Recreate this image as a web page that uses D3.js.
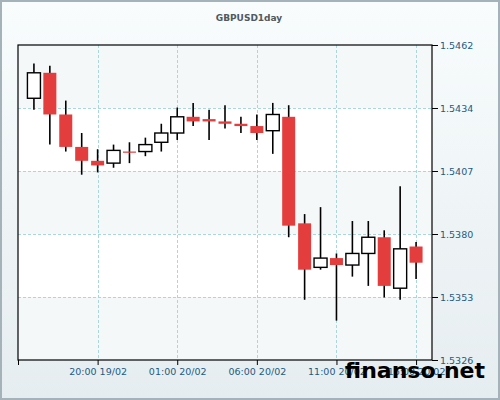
<!DOCTYPE html>
<html>
<head>
<meta charset="utf-8">
<script src="https://cdn.jsdelivr.net/npm/d3@7"></script>
<style>
  body { margin: 0; }
  svg { display: block; }
</style>
</head>
<body>
<div id="chart"></div>
<script>
// hourly candles, 16:00 19/02 .. 16:00 20/02
const hours = d3.range(25).map((i) => new Date(2013, 1, 19, 16 + i));
const opens  = [1.5439, 1.5450, 1.5432, 1.5418, 1.5412, 1.5411, 1.5416, 1.5416, 1.5420, 1.5424, 1.5431, 1.5430, 1.5429,
                1.5428, 1.5427, 1.5425, 1.5431, 1.5385, 1.5366, 1.5370, 1.5367, 1.5372, 1.5379, 1.5357, 1.5375];
const highs  = [1.5454, 1.5453, 1.5438, 1.5424, 1.5417, 1.5419, 1.5420, 1.5422, 1.5428, 1.5435, 1.5437, 1.5434, 1.5436,
                1.5431, 1.5432, 1.5437, 1.5436, 1.5389, 1.5392, 1.5372, 1.5386, 1.5386, 1.5382, 1.5401, 1.5377];
const lows   = [1.5434, 1.5419, 1.5416, 1.5406, 1.5407, 1.5409, 1.5411, 1.5414, 1.5416, 1.5421, 1.5427, 1.5421, 1.5426,
                1.5424, 1.5421, 1.5415, 1.5379, 1.5352, 1.5365, 1.5343, 1.5362, 1.5358, 1.5353, 1.5352, 1.5361];
const closes = [1.5450, 1.5432, 1.5418, 1.5412, 1.5410, 1.54165, 1.54155, 1.5419, 1.5424, 1.5431, 1.5429, 1.5429, 1.5428,
                1.5427, 1.5424, 1.5432, 1.5384, 1.5365, 1.5370, 1.5367, 1.5372, 1.5379, 1.5358, 1.5374, 1.5368];
const yTicks = [1.5326, 1.53532, 1.53804, 1.54076, 1.54348, 1.5462];
const xTicks = [15, 20, 25, 30, 35, 40].map((h) => new Date(2013, 1, 19, h));

const candles = hours.map((t, i) => ({
  t, o: opens[i], h: highs[i], l: lows[i], c: closes[i]
}));

const width = 500, height = 400;
const mLeft = 18, mRight = 432, mTop = 45, mBottom = 360;

const svg = d3.select("#chart").append("svg")
  .attr("width", width).attr("height", height);

const bg = svg.append("defs").append("linearGradient")
  .attr("id", "bg").attr("x1", 0).attr("y1", 0).attr("x2", 0).attr("y2", 1);
bg.append("stop").attr("offset", "0%").attr("stop-color", "#f8fcfd");
bg.append("stop").attr("offset", "100%").attr("stop-color", "#e6edf0");

svg.append("rect")
  .attr("x", 1).attr("y", 1).attr("width", width - 2).attr("height", height - 2)
  .attr("fill", "url(#bg)").attr("stroke", "#a6b2ba").attr("stroke-width", 2);

const x = d3.scaleTime()
  .domain([new Date(2013, 1, 19, 15), new Date(2013, 1, 20, 17)])
  .range([mLeft, mRight]);
const y = d3.scaleLinear().domain([1.5326, 1.5462]).range([mBottom, mTop]);

// alternating bands
const g = svg.append("g");
d3.pairs(yTicks).forEach(([a, b], i) => {
  g.append("rect")
    .attr("x", mLeft).attr("width", mRight - mLeft)
    .attr("y", y(b)).attr("height", y(a) - y(b))
    .attr("fill", i % 2 === 1 ? "#ffffff" : "#f4f8f9");
});

// grid
g.selectAll(".hg").data(yTicks.slice(1, -1)).join("line")
  .attr("x1", mLeft).attr("x2", mRight)
  .attr("y1", (d) => Math.round(y(d)) + 0.5).attr("y2", (d) => Math.round(y(d)) + 0.5)
  .attr("stroke", "#a9d6df").attr("stroke-dasharray", "3,2");
g.selectAll(".vg").data(xTicks.slice(1)).join("line")
  .attr("y1", mTop).attr("y2", mBottom)
  .attr("x1", (d) => Math.round(x(d)) + 0.5).attr("x2", (d) => Math.round(x(d)) + 0.5)
  .attr("stroke", "#a9d6df").attr("stroke-dasharray", "3,2");

// candles
const bw = 13;
const cg = svg.append("g").selectAll("g").data(candles).join("g");
cg.append("line")
  .attr("x1", (d) => x(d.t)).attr("x2", (d) => x(d.t))
  .attr("y1", (d) => y(d.h)).attr("y2", (d) => y(d.l))
  .attr("stroke", "#000").attr("stroke-width", 1.6);
cg.append("rect")
  .attr("x", (d) => x(d.t) - bw / 2)
  .attr("width", bw)
  .attr("y", (d) => y(Math.max(d.o, d.c)))
  .attr("height", (d) => Math.max(1.2, Math.abs(y(d.o) - y(d.c))))
  .attr("fill", (d) => (d.c > d.o ? "#ffffff" : "#e33d3d"))
  .attr("stroke", (d) => (d.c > d.o ? "#000" : "none"))
  .attr("stroke-width", 1.4);

// frame
svg.append("rect")
  .attr("x", mLeft).attr("y", mTop).attr("width", mRight - mLeft).attr("height", mBottom - mTop)
  .attr("fill", "none").attr("stroke", "#000").attr("stroke-width", 1.2);

const font = "DejaVu Sans";
// labels are truncated, not rounded
const fmtPrice = (d) => (Math.floor(d * 1e4 + 1e-6) / 1e4).toFixed(4);
const yAxis = svg.append("g")
  .attr("transform", `translate(${mRight},0)`)
  .call(d3.axisRight(y).tickValues(yTicks).tickFormat(fmtPrice).tickSize(6).tickPadding(2));
yAxis.select(".domain").remove();
yAxis.selectAll("line").attr("stroke", "#000");
yAxis.selectAll("text").attr("fill", "#1d5b82")
  .attr("font-family", font).attr("font-size", "9.5px");

const xAxis = svg.append("g")
  .attr("transform", `translate(0,${mBottom})`)
  .call(d3.axisBottom(x).tickValues(xTicks)
    .tickFormat((d, i) => (i === 0 ? "" : d3.timeFormat("%H:%M %d/%m")(d)))
    .tickSize(5).tickPadding(3));
xAxis.select(".domain").remove();
xAxis.selectAll("line").attr("stroke", "#000");
xAxis.selectAll("text").attr("fill", "#1d5b82")
  .attr("font-family", font).attr("font-size", "9.5px");

svg.append("text")
  .attr("x", 249).attr("y", 21)
  .attr("text-anchor", "middle")
  .attr("font-family", font).attr("font-weight", "bold").attr("font-size", "9px")
  .attr("fill", "#505860")
  .text("GBPUSD1day");

svg.append("text")
  .attr("x", 485).attr("y", 378)
  .attr("text-anchor", "end")
  .attr("font-family", font).attr("font-weight", "bold").attr("font-size", "22px")
  .attr("fill", "#000")
  .text("finanso.net");
</script>
</body>
</html>
